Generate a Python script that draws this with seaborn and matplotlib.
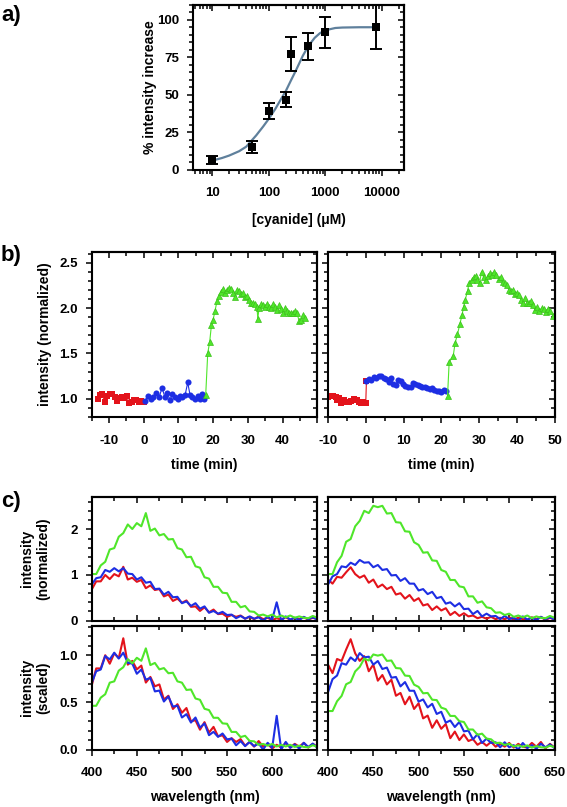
import numpy as np
import pandas as pd
import matplotlib
matplotlib.use("Agg")
import matplotlib.pyplot as plt
import seaborn as sns
from matplotlib.ticker import MultipleLocator, FixedLocator, FuncFormatter, NullFormatter

# ---------------- data ----------------
# panel a: dose response
conc = [10, 50, 100, 200, 250, 500, 1000, 8000]
pct_increase = [6.7, 15.1, 39.1, 46.9, 76.9, 82.2, 91.6, 95.1]
pct_err = [2.8, 4.1, 5.4, 5.3, 11.3, 8.7, 10.4, 14.9]
fit_conc = [10, 15, 20, 30, 40, 60, 80, 100, 130, 170, 200, 250, 300, 400, 500, 650, 800, 1000, 1500, 2000, 4000, 8000]
fit_pct = [6.2, 8.0, 9.6, 12.5, 15.5, 23.0, 29.0, 34.0, 40.5, 48.0, 52.5, 60.0, 66.0, 76.0, 82.5, 88.0, 91.0, 93.0, 94.5, 94.8, 95.0, 95.0]

# panel b: time courses
red_left_t = [-13.3, -12.6, -11.9, -11.2, -10.5, -9.8, -9.1, -8.4, -7.7, -7.0, -6.3, -5.6, -4.9, -4.2, -3.5, -2.8, -2.1, -1.4, -0.7, 0.0]
red_left_v = [1.00, 1.04, 1.05, 0.96, 1.03, 1.05, 1.05, 1.02, 0.98, 1.01, 1.02, 1.01, 1.03, 0.95, 0.97, 0.99, 0.99, 0.97, 0.98, 0.97]
blue_left_t = [0.37, 1.14, 2.1, 2.77, 3.54, 4.4, 5.27, 6.13, 6.8, 7.57, 8.25, 9.0, 9.78, 10.46, 11.13, 11.9, 12.67, 13.34, 14.0, 14.78, 15.55, 16.2, 16.9, 17.47]
blue_left_v = [0.975, 1.03, 1.0, 1.02, 1.067, 1.015, 1.12, 1.015, 1.06, 0.99, 1.05, 1.02, 1.0, 1.03, 1.02, 1.04, 1.18, 1.04, 1.02, 1.0, 1.03, 1.0, 1.05, 1.0]
green_left_t = [17.85, 18.43, 19.0, 19.49, 19.97, 20.54, 21.12, 21.7, 22.27, 22.85, 23.42, 24.0, 24.58, 25.15, 25.73,
                26.31, 26.88, 27.46, 28.04, 28.61, 29.19, 29.76, 30.34, 30.92, 31.49, 32.07, 32.65, 32.84, 33.22, 33.8,
                34.38, 34.95, 35.53, 36.1, 36.68, 37.26, 37.83, 38.41, 38.99, 39.56, 40.14, 40.72, 41.29, 41.87, 42.44,
                43.02, 43.6, 44.17, 44.75, 45.33, 45.9, 46.48]
green_left_v = [1.045, 1.50, 1.63, 1.81, 1.87, 1.97, 2.08, 2.13, 2.18, 2.21, 2.17, 2.20, 2.22, 2.21, 2.17,
                2.12, 2.20, 2.19, 2.15, 2.16, 2.12, 2.13, 2.09, 2.06, 2.06, 2.04, 2.01, 1.88, 2.0, 2.04,
                2.03, 2.01, 2.04, 2.01, 2.0, 2.04, 2.01, 1.98, 2.03, 1.99, 1.95, 2.0, 1.97, 1.94, 1.94,
                1.94, 1.97, 1.94, 1.86, 1.87, 1.92, 1.89]

red_right_t = [-10.0, -9.28, -8.58, -7.96, -7.52, -7.07, -6.45, -5.75, -5.04, -4.42, -3.8, -3.09, -2.39, -1.77, -1.15, -0.62, 0.0, 0.18]
red_right_v = [1.023, 1.034, 1.034, 1.023, 0.986, 1.012, 0.95, 0.986, 0.968, 0.961, 0.975, 0.997, 0.986, 0.968, 0.95, 0.961, 0.95, 1.198]
blue_right_t = [0.18, 0.88, 1.5, 2.21, 2.83, 3.54, 4.16, 4.86, 5.48, 6.1, 6.72, 7.34, 7.96, 8.58, 9.28, 9.9, 10.52,
                11.23, 11.93, 12.55, 13.17, 13.79, 14.41, 15.03, 15.65, 16.27, 16.89, 17.51, 18.13, 18.76, 19.38, 20.0, 20.61, 21.23]
blue_right_v = [1.198, 1.217, 1.206, 1.242, 1.231, 1.25, 1.25, 1.231, 1.213, 1.187, 1.224, 1.162, 1.151, 1.206, 1.195, 1.162, 1.144,
                1.125, 1.133, 1.169, 1.158, 1.151, 1.144, 1.133, 1.125, 1.114, 1.107, 1.114, 1.096, 1.089, 1.089, 1.078, 1.096, 1.089]
green_right_t = [21.67, 22.1, 23.16, 23.69, 24.3, 24.9, 25.5, 25.9, 26.35, 26.97, 27.4, 28.03, 28.56, 29.18, 29.6,
                 30.15, 30.68, 31.2, 31.74, 32.3, 32.9, 33.46, 34.08, 34.6, 35.2, 35.7, 36.3, 36.8, 37.4, 37.9,
                 38.5, 39.0, 39.55, 40.1, 40.6, 41.1, 41.7, 42.2, 42.7, 43.2, 43.8, 44.3, 44.8, 45.4, 46.0,
                 46.6, 47.1, 47.7, 48.3, 48.8, 49.6]
green_right_v = [1.034, 1.407, 1.47, 1.62, 1.71, 1.82, 1.92, 2.01, 2.09, 2.19, 2.28, 2.31, 2.34, 2.35, 2.31,
                 2.28, 2.40, 2.34, 2.31, 2.35, 2.38, 2.36, 2.40, 2.36, 2.32, 2.34, 2.29, 2.28, 2.25, 2.20,
                 2.19, 2.20, 2.15, 2.17, 2.14, 2.09, 2.06, 2.11, 2.06, 2.05, 2.08, 2.03, 1.98, 2.01, 1.97,
                 2.0, 1.99, 1.96, 1.99, 1.97, 1.91]

# panel c: emission spectra (normalized)
wavelength = [400, 405, 410, 415, 420, 425, 430, 435, 440, 445, 450, 455, 460, 465, 470, 475, 480, 485, 490, 495,
              500, 505, 510, 515, 520, 525, 530, 535, 540, 545, 550, 555, 560, 565, 570, 575, 580, 585, 590, 595,
              600, 605, 610, 615, 620, 625, 630, 635, 640, 645, 650]
red_spec_left = [0.68, 0.86, 0.86, 1.00, 0.91, 1.02, 0.97, 1.18, 0.90, 0.94, 0.85, 0.89, 0.71, 0.77, 0.67, 0.69, 0.53, 0.57, 0.43, 0.48,
                 0.39, 0.44, 0.30, 0.31, 0.21, 0.29, 0.18, 0.24, 0.14, 0.15, 0.08, 0.12, 0.08, 0.11, 0.04, 0.08, 0.03, 0.09, 0.03, 0.06,
                 0.01, 0.05, 0.02, 0.07, 0.02, 0.06, 0.03, 0.07, 0.02, 0.06, 0.03]
blue_spec_left = [0.79, 0.93, 0.95, 1.11, 1.07, 1.15, 1.08, 1.15, 1.03, 1.02, 0.90, 0.95, 0.83, 0.85, 0.69, 0.70, 0.57, 0.63, 0.51, 0.52,
                  0.38, 0.42, 0.32, 0.38, 0.26, 0.31, 0.17, 0.21, 0.15, 0.19, 0.12, 0.13, 0.05, 0.10, 0.04, 0.09, 0.04, 0.07, 0.00, 0.08,
                  0.02, 0.40, 0.00, 0.09, 0.02, 0.06, 0.01, 0.08, 0.03, 0.07, 0.02]
green_spec_left = [1.02, 1.02, 1.21, 1.29, 1.56, 1.59, 1.84, 1.92, 2.11, 2.01, 2.14, 2.07, 2.36, 1.97, 2.02, 1.87, 1.90, 1.78, 1.79, 1.59,
                   1.56, 1.39, 1.40, 1.19, 1.16, 0.95, 0.92, 0.74, 0.74, 0.61, 0.60, 0.41, 0.41, 0.29, 0.32, 0.20, 0.19, 0.11, 0.13, 0.09,
                   0.13, 0.07, 0.11, 0.07, 0.11, 0.06, 0.09, 0.06, 0.05, 0.10, 0.06]
red_spec_right = [0.90, 0.81, 0.96, 0.94, 1.06, 1.17, 1.02, 0.94, 0.99, 0.83, 0.90, 0.73, 0.79, 0.69, 0.74, 0.57, 0.60, 0.48, 0.56, 0.43,
                  0.49, 0.33, 0.36, 0.23, 0.31, 0.22, 0.27, 0.12, 0.19, 0.10, 0.16, 0.09, 0.11, 0.05, 0.08, 0.04, 0.08, 0.03, 0.06, 0.03,
                  0.07, 0.02, 0.06, 0.03, 0.02, 0.07, 0.03, 0.08, 0.01, 0.06, 0.02]
blue_spec_right = [0.79, 0.97, 1.02, 1.19, 1.17, 1.27, 1.22, 1.33, 1.27, 1.28, 1.17, 1.22, 1.11, 1.13, 0.99, 1.00, 0.87, 0.93, 0.81, 0.81,
                   0.66, 0.69, 0.58, 0.63, 0.49, 0.52, 0.37, 0.40, 0.31, 0.38, 0.25, 0.26, 0.14, 0.21, 0.09, 0.15, 0.09, 0.10, 0.03, 0.10,
                   0.03, 0.06, 0.00, 0.09, 0.02, 0.06, 0.01, 0.08, 0.03, 0.07, 0.02]
green_spec_right = [1.02, 1.02, 1.28, 1.42, 1.73, 1.79, 2.07, 2.19, 2.41, 2.36, 2.52, 2.49, 2.52, 2.35, 2.36, 2.16, 2.15, 1.96, 1.95, 1.72,
                    1.66, 1.49, 1.50, 1.32, 1.31, 1.11, 1.07, 0.89, 0.89, 0.75, 0.73, 0.53, 0.53, 0.39, 0.42, 0.29, 0.27, 0.17, 0.18, 0.12,
                    0.15, 0.08, 0.11, 0.07, 0.11, 0.05, 0.09, 0.06, 0.05, 0.10, 0.06]
# peak values used to scale each spectrum (red, blue, green)
peak_left = [1.0, 1.12, 2.2]
peak_right = [1.0, 1.3, 2.5]

RED, BLUE, GREEN = "#e3131b", "#1d2ee3", "#4fe62a"
FIT = "#5f809c"

# ---------------- style ----------------
sns.set_theme(style="ticks")
plt.rcParams.update({
    "font.family": ["Liberation Sans", "DejaVu Sans"],
    "font.weight": "bold",
    "axes.labelweight": "bold",
    "axes.labelsize": 10,
    "xtick.labelsize": 9.5,
    "ytick.labelsize": 9.5,
    "axes.edgecolor": "black",
    "text.color": "black",
    "axes.labelcolor": "black",
    "xtick.color": "black",
    "ytick.color": "black",
    "axes.linewidth": 1.5,
})

W, H = 567, 807
fig = plt.figure(figsize=(W / 100, H / 100), dpi=100)


def add_ax(l, r, t, b):
    return fig.add_axes([l / W, 1 - b / H, (r - l) / W, (b - t) / H])


MAJ, MIN, TW = 4.6, 2.8, 1.1


def dress(ax, xmaj=None, xmin=None, ymaj=None, ymin=None, bottom_dir="out",
          xlabels=True, ylabels=True):
    if xmaj is not None:
        ax.xaxis.set_major_locator(FixedLocator(xmaj))
        ax.xaxis.set_minor_locator(MultipleLocator(xmin))
    ax.yaxis.set_major_locator(FixedLocator(ymaj))
    ax.yaxis.set_minor_locator(MultipleLocator(ymin))
    ax.tick_params(axis="x", which="both", direction=bottom_dir, top=False, bottom=True,
                   width=TW, labelbottom=xlabels, pad=8)
    ax.tick_params(axis="y", which="both", direction="out", right=False, left=True,
                   width=TW, labelleft=ylabels, pad=5.5)
    ax.tick_params(which="major", length=MAJ)
    ax.tick_params(which="minor", length=MIN)
    for s in ax.spines.values():
        s.set_visible(True)
        s.set_linewidth(1.5)
        s.set_color("black")
    sx = ax.secondary_xaxis("top")
    if xmaj is not None:
        sx.xaxis.set_major_locator(FixedLocator(xmaj))
        sx.xaxis.set_minor_locator(MultipleLocator(xmin))
    sx.tick_params(axis="x", which="both", direction="in", labeltop=False, width=TW)
    sx.tick_params(which="major", length=MAJ)
    sx.tick_params(which="minor", length=MIN)
    sx.spines["top"].set_linewidth(1.5)
    sy = ax.secondary_yaxis("right")
    sy.yaxis.set_major_locator(FixedLocator(ymaj))
    sy.yaxis.set_minor_locator(MultipleLocator(ymin))
    sy.tick_params(axis="y", which="both", direction="in", labelright=False, width=TW)
    sy.tick_params(which="major", length=MAJ)
    sy.tick_params(which="minor", length=MIN)
    sy.spines["right"].set_linewidth(1.5)


# ---------------- panel a ----------------
axa = add_ax(193, 404, 4.7, 170)
axa.set_xscale("log")
axa.set_xlim(4.6, 24500)
axa.set_ylim(0, 110)
sns.lineplot(x=fit_conc, y=fit_pct, ax=axa, color=FIT, lw=1.6, estimator=None, sort=False)
axa.errorbar(conc, pct_increase, yerr=pct_err, fmt="none", ecolor="black", elinewidth=1.4,
             capsize=4.2, capthick=1.4, zorder=3)
sns.scatterplot(x=conc, y=pct_increase, ax=axa, marker="s", s=28, color="black",
                edgecolor="black", linewidth=0, zorder=4)
dress(axa, ymaj=[0, 25, 50, 75, 100], ymin=5)
axa.xaxis.set_major_formatter(FuncFormatter(lambda v, p: f"{v:g}"))
axa.xaxis.set_minor_formatter(NullFormatter())
axa.set_xlabel("[cyanide] (\u03bcM)")
axa.set_ylabel("% intensity increase")
axa.xaxis.set_label_coords(0.5, -0.26)
axa.yaxis.set_label_coords(-0.17, 0.5)

# ---------------- panel b ----------------
b_panels = [
    (add_ax(91.7, 317.3, 251.7, 417), (-15, 50), red_left_t, red_left_v, blue_left_t, blue_left_v,
     green_left_t, green_left_v, (0, 21), True),
    (add_ax(328, 554.5, 251.7, 417), (-10, 50), red_right_t, red_right_v, blue_right_t, blue_right_v,
     green_right_t, green_right_v, (5, 24), False),
]
for ax, xl, rt, rv, bt, bv, gt, gv, base, left in b_panels:
    ax.set_xlim(*xl)
    ax.set_ylim(0.8, 2.62)
    ax.plot(list(base), [0.8, 0.8], color=BLUE, lw=1.2, clip_on=False, zorder=1)
    sns.lineplot(x=rt, y=rv, ax=ax, color=RED, lw=0.8, marker="s", markersize=4.2,
                 markeredgewidth=0, estimator=None, sort=False)
    sns.lineplot(x=bt, y=bv, ax=ax, color=BLUE, lw=0.8, marker="o", markersize=4.4,
                 markeredgewidth=0, estimator=None, sort=False)
    sns.lineplot(x=gt, y=gv, ax=ax, color=GREEN, lw=0.8, marker="^", markersize=5.0,
                 markeredgewidth=0.5, markeredgecolor="#3cc01c", estimator=None, sort=False)
    dress(ax, xmaj=[-10, 0, 10, 20, 30, 40, 50], xmin=5, ymaj=[1.0, 1.5, 2.0, 2.5], ymin=0.1,
          ylabels=left)
    if left:
        ax.xaxis.set_major_formatter(FuncFormatter(lambda v, p: "" if v >= 50 else f"{v:g}"))
        ax.yaxis.set_major_formatter(FuncFormatter(lambda v, p: f"{v:.1f}"))
        ax.set_ylabel("intensity (normalized)")
        ax.yaxis.set_label_coords(-0.176, 0.5)
    else:
        ax.set_ylabel("")
        ax.xaxis.set_major_formatter(FuncFormatter(lambda v, p: f"{v:g}"))
    ax.set_xlabel("time (min)")
    ax.xaxis.set_label_coords(0.5, -0.25)

# ---------------- panel c ----------------
c_cols = [
    ((91.7, 317.3), red_spec_left, blue_spec_left, green_spec_left, peak_left, True),
    ((328, 554.5), red_spec_right, blue_spec_right, green_spec_right, peak_right, False),
]
for (l, r), rs, bs, gs, pk, left in c_cols:
    top = add_ax(l, r, 496.7, 620.5)
    bot = add_ax(l, r, 626, 749.5)
    top.plot([400, 600], [0, 0], color=BLUE, lw=1.2, zorder=1)
    for ax, scaled in ((top, False), (bot, True)):
        for vals, col, p in ((rs, RED, pk[0]), (bs, BLUE, pk[1]), (gs, GREEN, pk[2])):
            y = [v / p for v in vals] if scaled else vals
            sns.lineplot(x=wavelength, y=y, ax=ax, color=col, lw=1.5, estimator=None, sort=False)
        ax.set_xlim(400, 650)
    top.set_ylim(0, 2.72)
    bot.set_ylim(0, 1.31)
    dress(top, xmaj=[400, 450, 500, 550, 600, 650], xmin=25, ymaj=[0, 1, 2], ymin=0.2,
          bottom_dir="in", xlabels=False, ylabels=left)
    dress(bot, xmaj=[400, 450, 500, 550, 600, 650], xmin=25, ymaj=[0.0, 0.5, 1.0], ymin=0.1,
          ylabels=left)
    top.yaxis.set_major_formatter(FuncFormatter(lambda v, p: f"{v:g}"))
    bot.yaxis.set_major_formatter(FuncFormatter(lambda v, p: f"{v:.1f}"))
    if left:
        bot.xaxis.set_major_formatter(FuncFormatter(lambda v, p: "" if v >= 650 else f"{v:g}"))
        top.set_ylabel("intensity\n(normalized)")
        bot.set_ylabel("intensity\n(scaled)")
        top.yaxis.set_label_coords(-0.185, 0.5)
        bot.yaxis.set_label_coords(-0.185, 0.5)
    else:
        bot.xaxis.set_major_formatter(FuncFormatter(lambda v, p: f"{v:g}"))
        top.set_ylabel("")
        bot.set_ylabel("")
    top.set_xlabel("")
    bot.set_xlabel("wavelength (nm)")
    bot.xaxis.set_label_coords(0.5, -0.33)

# panel letters
fig.text(1 / W, 1 - 16 / H, "a)", fontsize=16, fontweight="bold", va="center", ha="left")
fig.text(1 / W, 1 - 255 / H, "b)", fontsize=16, fontweight="bold", va="center", ha="left")
fig.text(1 / W, 1 - 501 / H, "c)", fontsize=16, fontweight="bold", va="center", ha="left")

fig.savefig("out.png", dpi=100)
